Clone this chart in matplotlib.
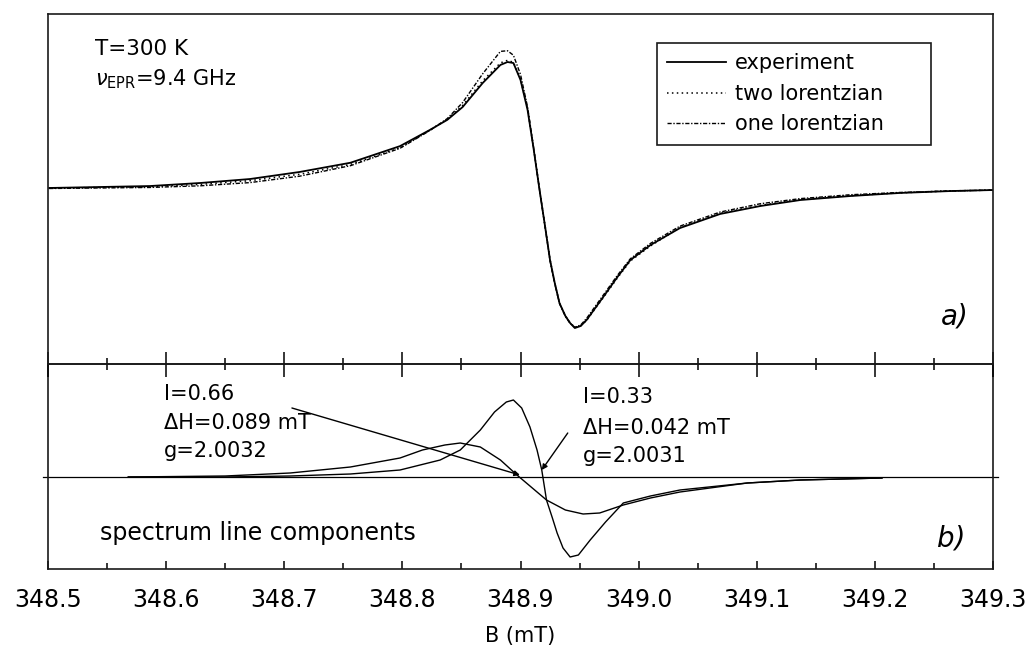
import matplotlib
matplotlib.use('Agg')
import matplotlib.pyplot as plt
from matplotlib.ticker import MultipleLocator

# a) measured EPR line and the two fits, arb. units
B_top = [348.501, 348.586, 348.629, 348.671, 348.713, 348.756, 348.798, 348.823,
         348.838, 348.851, 348.868, 348.883, 348.889, 348.894, 348.900, 348.906,
         348.911, 348.916, 348.921, 348.925, 348.929, 348.933, 348.938, 348.942,
         348.946, 348.951, 348.956, 348.970, 348.982, 348.993, 349.010, 349.035,
         349.069, 349.103, 349.137, 349.179, 349.221, 349.264, 349.300]
experiment = [0.008, 0.023, 0.047, 0.078, 0.133, 0.205, 0.335, 0.460,
              0.540, 0.640, 0.828, 0.969, 0.992, 0.984, 0.852, 0.617,
              0.320, 0.000, -0.305, -0.555, -0.734, -0.891, -0.992, -1.047,
              -1.086, -1.070, -1.023, -0.844, -0.688, -0.555, -0.438, -0.305,
              -0.195, -0.133, -0.086, -0.055, -0.031, -0.016, -0.008]
two_lorentzian = [0.006, 0.018, 0.036, 0.065, 0.115, 0.192, 0.322, 0.458,
                  0.545, 0.652, 0.845, 0.985, 1.005, 0.990, 0.860, 0.625,
                  0.325, 0.005, -0.300, -0.550, -0.735, -0.890, -0.990, -1.045,
                  -1.080, -1.068, -1.025, -0.850, -0.695, -0.562, -0.445, -0.300,
                  -0.190, -0.128, -0.082, -0.052, -0.030, -0.015, -0.008]
one_lorentzian = [0.004, 0.012, 0.025, 0.050, 0.100, 0.182, 0.318, 0.455,
                  0.550, 0.675, 0.900, 1.075, 1.080, 1.045, 0.895, 0.640,
                  0.330, 0.000, -0.310, -0.560, -0.740, -0.895, -0.995, -1.050,
                  -1.080, -1.062, -1.010, -0.830, -0.675, -0.545, -0.425, -0.290,
                  -0.180, -0.115, -0.075, -0.045, -0.027, -0.015, -0.009]

# b) the two components of the line
B_broad = [348.568, 348.650, 348.705, 348.756, 348.798, 348.817, 348.836, 348.849,
           348.866, 348.883, 348.897, 348.910, 348.922, 348.938, 348.953, 348.967,
           348.987, 349.010, 349.035, 349.092, 349.137, 349.206]
broad = [0.00, 0.01, 0.04, 0.10, 0.19, 0.27, 0.32, 0.34,
         0.30, 0.17, 0.02, -0.11, -0.23, -0.33, -0.37, -0.36,
         -0.28, -0.21, -0.15, -0.06, -0.03, -0.01]      # I=0.66
B_narrow = [348.568, 348.650, 348.705, 348.756, 348.798, 348.832, 348.849, 348.866,
            348.878, 348.888, 348.894, 348.901, 348.908, 348.914, 348.918, 348.922,
            348.927, 348.931, 348.936, 348.942, 348.949, 348.959, 348.972, 348.987,
            349.010, 349.035, 349.092, 349.137, 349.206]
narrow = [0.00, 0.00, 0.01, 0.03, 0.07, 0.17, 0.27, 0.47,
          0.65, 0.75, 0.77, 0.69, 0.50, 0.27, 0.07, -0.23,
          -0.41, -0.56, -0.71, -0.80, -0.78, -0.63, -0.45, -0.26,
          -0.19, -0.13, -0.06, -0.03, -0.01]            # I=0.33

xticks = [348.5, 348.6, 348.7, 348.8, 348.9, 349.0, 349.1, 349.2, 349.3]
xticklabels = ['348.5', '348.6', '348.7', '348.8', '348.9', '349.0', '349.1', '349.2', '349.3']

plt.rcParams['font.family'] = ['DejaVu Sans']
plt.rcParams['mathtext.fontset'] = 'dejavusans'

W, H = 1026, 653


def fxy(x, y):
    return x / W, 1 - y / H


fig = plt.figure(figsize=(W / 100, H / 100), dpi=100)
left = 48 / W
width = (993 - 48) / W
ax2 = fig.add_axes([left, 1 - 569 / H, width, 205 / H])
ax1 = fig.add_axes([left, 1 - 364 / H, width, 350 / H], sharex=ax2)
ax1.set_zorder(3)
ax1.patch.set_visible(False)

for ax in (ax1, ax2):
    for s in ax.spines.values():
        s.set_linewidth(1.2)
        s.set_color('#1a1a1a')
    ax.set_yticks([])

# top panel
ax1.plot(B_top, experiment, color='black', lw=1.3, label='experiment')
ax1.plot(B_top, two_lorentzian, color='black', lw=1.1, ls=(0, (1, 2.2)), label='two lorentzian')
ax1.plot(B_top, one_lorentzian, color='black', lw=1.0, ls=(0, (3, 1.2, 1, 1.2)), label='one lorentzian')
ax1.set_ylim(-1.367, 1.367)
ax1.set_xlim(348.5, 349.3)
ax1.xaxis.set_major_locator(MultipleLocator(0.1))
ax1.xaxis.set_minor_locator(MultipleLocator(0.05))
ax1.tick_params(axis='x', which='major', direction='inout', length=18, width=1.1,
                labelbottom=False, top=False, bottom=True)
ax1.tick_params(axis='x', which='minor', direction='inout', length=9, width=1.1,
                top=False, bottom=True)

x0, y0 = fxy(657, 142)
leg = ax1.legend(loc='upper left', bbox_to_anchor=(x0, y0, (931 - 657) / W, 99 / H),
                 bbox_transform=fig.transFigure, mode='expand',
                 fontsize=15, handlelength=2.8, handletextpad=0.45, labelspacing=0.5,
                 borderpad=0.5, borderaxespad=0, fancybox=False, framealpha=1,
                 edgecolor='#1a1a1a')
leg.get_frame().set_linewidth(1.2)

fig.text(*fxy(95, 55), 'T=300 K', fontsize=15.5, ha='left', va='baseline')
fig.text(*fxy(95, 85), r'$\nu_{\mathrm{EPR}}$=9.4 GHz', fontsize=15, ha='left', va='baseline')
fig.text(*fxy(955, 317), 'a)', fontsize=20, style='italic', ha='center', va='center')

# bottom panel
ax2.axhline(0, xmin=-0.005, xmax=1.005, color='black', lw=0.9, clip_on=False)
ax2.plot(B_broad, broad, color='black', lw=1.0)
ax2.plot(B_narrow, narrow, color='black', lw=1.0)
ax2.set_ylim(-0.92, 1.13)
ax2.set_xticks(xticks)
ax2.set_xticklabels(xticklabels)
ax2.xaxis.set_minor_locator(MultipleLocator(0.05))
ax2.tick_params(axis='x', which='major', direction='in', length=6, width=1.1,
                labelsize=17, pad=14, top=False)
ax2.tick_params(axis='x', which='minor', direction='in', length=4, width=1.1, top=False)
ax2.set_xlabel('B (mT)', fontsize=15, labelpad=10)

arrow = dict(arrowstyle='-|>', color='black', lw=1.0, mutation_scale=8, shrinkA=0, shrinkB=0)
ax2.annotate('', xy=(348.8995, 0.02), xytext=(348.7065, 0.69), arrowprops=arrow)
ax2.annotate('', xy=(348.918, 0.07), xytext=(348.940, 0.44), arrowprops=arrow)

for txt, y in [('I=0.66', 400), ('ΔH=0.089 mT', 429), ('g=2.0032', 457)]:
    fig.text(*fxy(164, y), txt, fontsize=15, ha='left', va='baseline')
for txt, y in [('I=0.33', 403), ('ΔH=0.042 mT', 434), ('g=2.0031', 462)]:
    fig.text(*fxy(583, y), txt, fontsize=15, ha='left', va='baseline')
fig.text(*fxy(100, 540), 'spectrum line components', fontsize=17, ha='left', va='baseline')
fig.text(*fxy(951, 538), 'b)', fontsize=20, style='italic', ha='center', va='center')

fig.savefig('out.png', dpi=100)
